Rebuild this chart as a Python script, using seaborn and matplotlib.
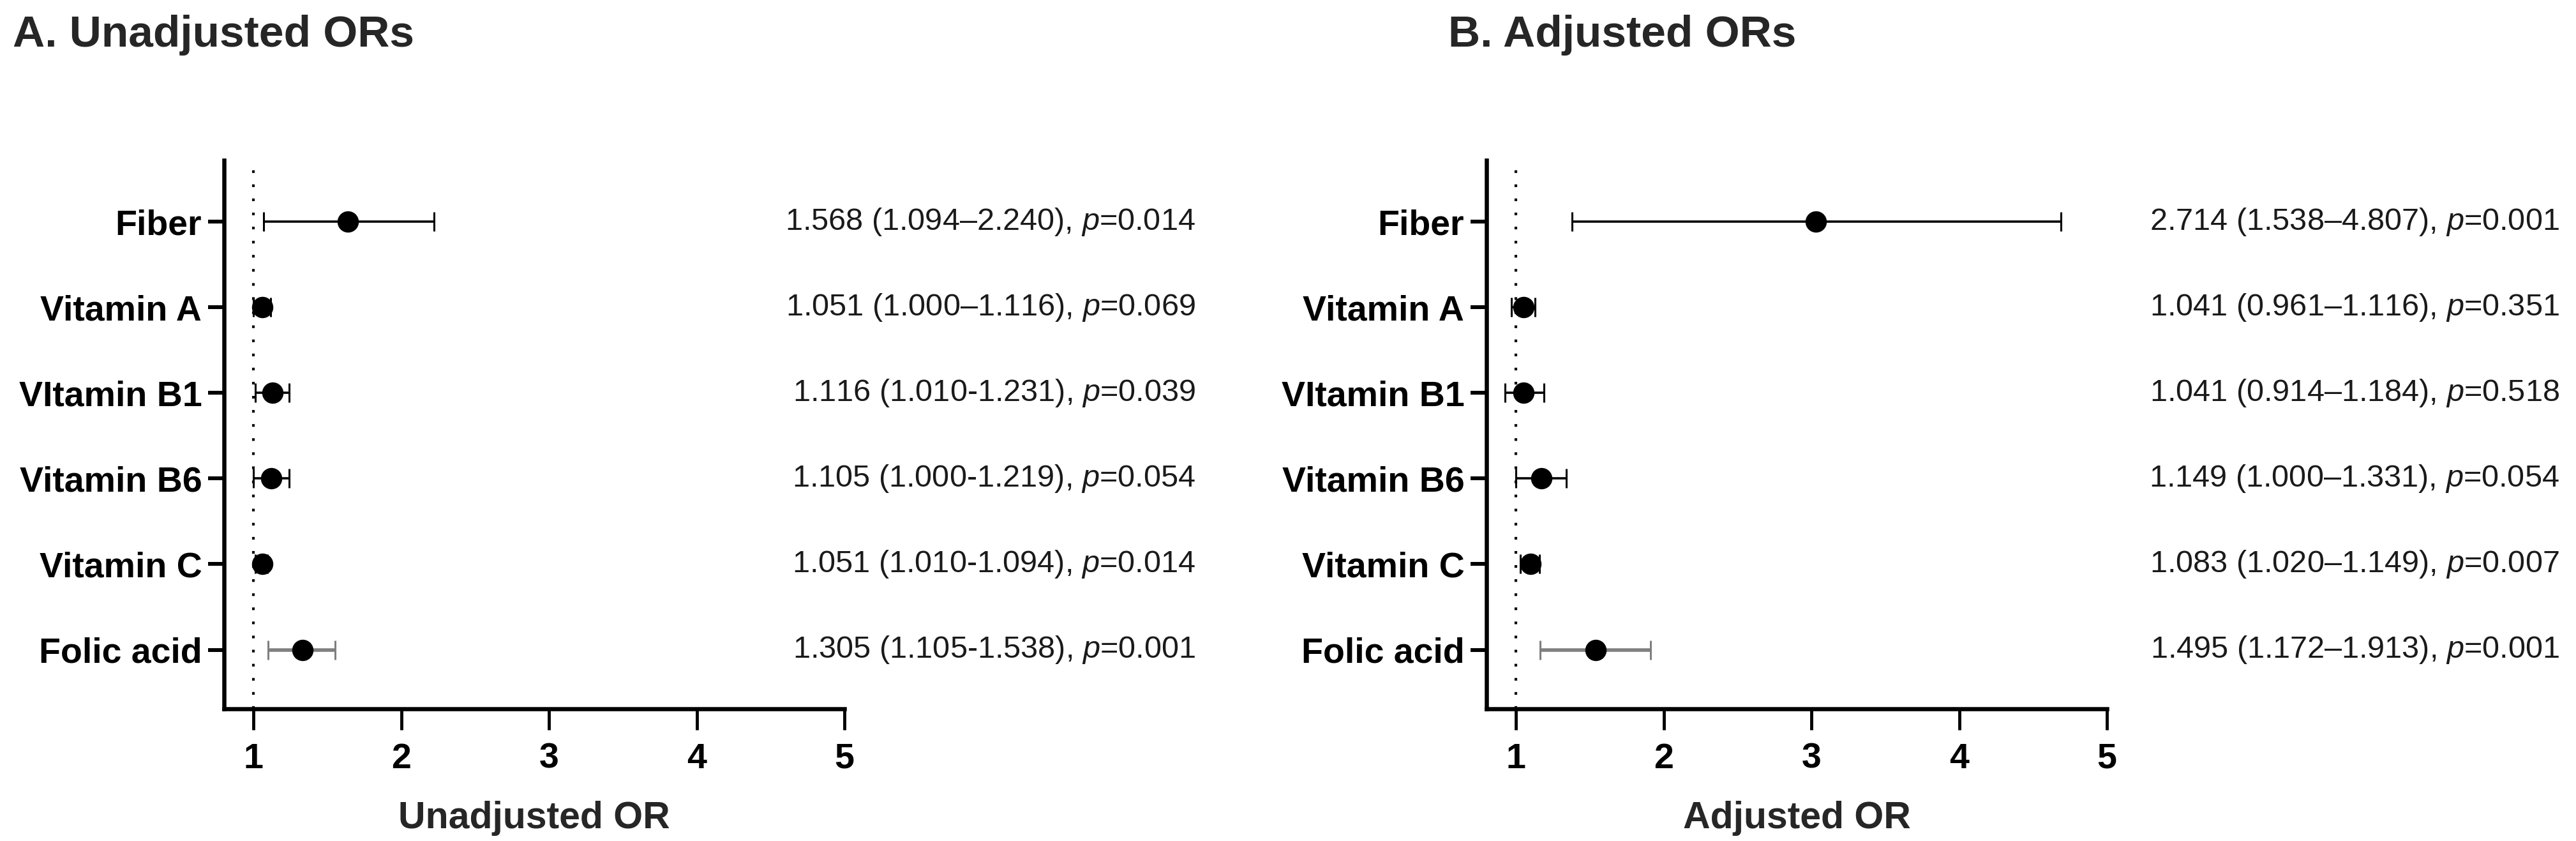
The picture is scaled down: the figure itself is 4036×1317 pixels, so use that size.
import numpy as np
import pandas as pd
import matplotlib
matplotlib.use("Agg")
import matplotlib.pyplot as plt
import matplotlib.transforms as mtransforms
import seaborn as sns

# ---------------- data ----------------
categories = ["Fiber", "Vitamin A", "VItamin B1", "Vitamin B6", "Vitamin C", "Folic acid"]

unadj_or = [1.64, 1.06, 1.13, 1.12, 1.06, 1.33]
unadj_lo = [1.07, 1.00, 1.01, 1.00, 1.01, 1.10]
unadj_hi = [2.22, 1.116, 1.24, 1.24, 1.094, 1.55]
unadj_text = [
    "1.568 (1.094\u20132.240), $p$=0.014",
    "1.051 (1.000\u20131.116), $p$=0.069",
    "1.116 (1.010-1.231), $p$=0.039",
    "1.105 (1.000-1.219), $p$=0.054",
    "1.051 (1.010-1.094), $p$=0.014",
    "1.305 (1.105-1.538), $p$=0.001",
]

adj_or = [3.03, 1.05, 1.05, 1.17, 1.10, 1.54]
adj_lo = [1.38, 0.97, 0.926, 1.00, 1.03, 1.165]
adj_hi = [4.69, 1.13, 1.19, 1.34, 1.16, 1.91]
adj_text = [
    "2.714 (1.538\u20134.807), $p$=0.001",
    "1.041 (0.961\u20131.116), $p$=0.351",
    "1.041 (0.914\u20131.184), $p$=0.518",
    "1.149 (1.000\u20131.331), $p$=0.054",
    "1.083 (1.020\u20131.149), $p$=0.007",
    "1.495 (1.172\u20131.913), $p$=0.001",
]

bar_colors = ["black", "black", "black", "black", "black", "#7f7f7f"]
x_ticks = [1, 2, 3, 4, 5]
panel_titles = ["A. Unadjusted ORs", "B. Adjusted ORs"]
x_labels = ["Unadjusted OR", "Adjusted OR"]

# ---------------- style ----------------
sns.set_theme(style="ticks")
plt.rcParams["font.family"] = ["Liberation Sans", "DejaVu Sans"]
plt.rcParams["mathtext.fontset"] = "custom"
plt.rcParams["mathtext.rm"] = "Liberation Sans"
plt.rcParams["mathtext.it"] = "Liberation Sans:italic"

W, H = 4036, 1317
fig = plt.figure(figsize=(W / 100, H / 100), dpi=100)

ax_bottom = (H - 1110) / H
ax_height = (1110 - 250.7) / H
ax_width = (1323 - 351) / W
axes = [
    fig.add_axes([351 / W, ax_bottom, ax_width, ax_height]),
    fig.add_axes([2329 / W, ax_bottom, ax_width, ax_height]),
]
title_x = [20 / W, 2269 / W]
text_right_x = [1873 / W, 4010 / W]

panels = [
    (unadj_or, unadj_lo, unadj_hi, unadj_text),
    (adj_or, adj_lo, adj_hi, adj_text),
]

for i, (ax, (orv, lo, hi, txt)) in enumerate(zip(axes, panels)):
    df = pd.DataFrame({"cat": categories, "or": orv, "lo": lo, "hi": hi})
    ypos = np.arange(len(categories))

    ax.axvline(1, color="black", lw=3.0, linestyle=(0, (1, 4.3)), zorder=1)

    for y, (o, l, h, c) in enumerate(zip(df["or"], df["lo"], df["hi"], bar_colors)):
        ax.errorbar(o, y, xerr=[[o - l], [h - o]], fmt="none", ecolor=c,
                    elinewidth=2.6 if c == "black" else 4.0, capsize=11,
                    capthick=2.2, zorder=2)

    sns.scatterplot(data=df, x="or", y="cat", ax=ax, color="black", s=580,
                    edgecolor="black", linewidth=0, zorder=3, legend=False)

    ax.set_xlim(0.8, 5)
    ax.set_ylim(5.69, -0.72)
    ax.set_yticks(ypos)
    ax.set_yticklabels(categories, fontsize=40, fontweight="bold")
    ax.set_xticks(x_ticks)
    ax.set_xticklabels([str(t) for t in x_ticks], fontsize=40, fontweight="bold")
    ax.set_ylabel("")
    ax.set_xlabel(x_labels[i], fontsize=42.5, fontweight="bold", labelpad=28)

    for side in ["top", "right"]:
        ax.spines[side].set_visible(False)
    for side in ["left", "bottom"]:
        ax.spines[side].set_linewidth(4.7)
        ax.spines[side].set_color("black")
    ax.tick_params(axis="y", length=18, width=4.3, pad=7, colors="black")
    ax.tick_params(axis="x", length=24, width=3.5, pad=14, colors="black")
    ax.grid(False)

    trans = mtransforms.blended_transform_factory(fig.transFigure, ax.transData)
    for y, t in zip(ypos, txt):
        ax.text(text_right_x[i], y, t, transform=trans, ha="right", va="center",
                fontsize=35, color="#1a1a1a", clip_on=False)

    fig.text(title_x[i], 1 - 73 / H, panel_titles[i], fontsize=50,
             fontweight="bold", ha="left", va="baseline")

fig.savefig("out.png", dpi=100, facecolor="white")
